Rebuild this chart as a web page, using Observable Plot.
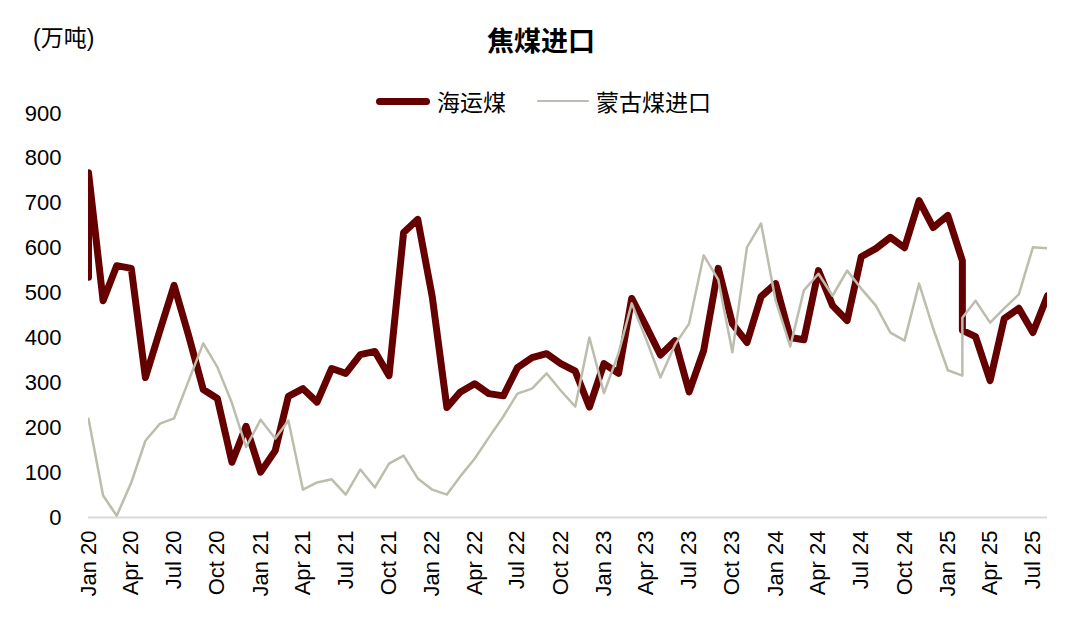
<!DOCTYPE html>
<html>
<head>
<meta charset="utf-8">
<script src="https://cdn.jsdelivr.net/npm/d3@7"></script>
<script src="https://cdn.jsdelivr.net/npm/@observablehq/plot@0.6"></script>
<style>
  html, body { margin: 0; padding: 0; background: #fff; }
  #wrap { position: relative; width: 1080px; height: 624px; overflow: hidden;
          font-family: "Liberation Sans", Arial, "Noto Sans CJK SC", sans-serif; color: #000; }
  #chart { position: absolute; left: 0; top: 0; }
  .ov { position: absolute; white-space: nowrap; }
  #unit { left: 33px; top: 27px; font-size: 23px; line-height: 23px; }
  #title { left: 0; width: 1082px; top: 26px; text-align: center; font-size: 27px; line-height: 27px; font-weight: bold;
           font-family: "Noto Sans CJK SC", sans-serif; }
  #legend { left: 376px; top: 89px; height: 24px; display: flex; align-items: center; font-size: 23px; line-height: 24px;
            font-family: "Noto Sans CJK SC", sans-serif; }
  .sw { display: inline-block; }
</style>
</head>
<body>
<div id="wrap">
  <div id="chart"></div>
  <div id="unit" class="ov">(万吨)</div>
  <div id="title" class="ov">焦煤进口</div>
  <div id="legend" class="ov"></div>
</div>
<script>
// Months (Jan 2020 and Feb 2025 appear twice in the source series)
const months = [
  "2020-01","2020-01","2020-02","2020-03","2020-04","2020-05","2020-06","2020-07","2020-08","2020-09","2020-10","2020-11","2020-12",
  "2021-01","2021-02","2021-03","2021-04","2021-05","2021-06","2021-07","2021-08","2021-09","2021-10","2021-11","2021-12",
  "2022-01","2022-02","2022-03","2022-04","2022-05","2022-06","2022-07","2022-08","2022-09","2022-10","2022-11","2022-12",
  "2023-01","2023-02","2023-03","2023-04","2023-05","2023-06","2023-07","2023-08","2023-09","2023-10","2023-11","2023-12",
  "2024-01","2024-02","2024-03","2024-04","2024-05","2024-06","2024-07","2024-08","2024-09","2024-10","2024-11","2024-12",
  "2025-01","2025-02","2025-02","2025-03","2025-04","2025-05","2025-06","2025-07","2025-08"
];
// 海运煤 (万吨)
const seaborne = [
  535, 768, 483, 561, 555, 312, 417, 517, 405, 285, 265, 123, 203,
  101, 149, 270, 287, 257, 332, 321, 363, 370, 316, 635, 664,
  491, 245, 279, 298, 276, 271, 334, 356, 365, 343, 326, 246,
  343, 321, 488, 425, 362, 394, 280, 372, 555, 432, 390, 492,
  521, 401, 396, 550, 472, 439, 581, 599, 624, 601, 706, 646,
  673, 572, 417, 403, 305, 443, 466, 412, 494
];
// 蒙古煤进口 (万吨)
const mongolia = [
  null, 220, 49, 4, 78, 171, 209, 221, 305, 388, 335, 255, 157,
  218, 176, 216, 62, 78, 85, 51, 107, 67, 120, 138, 87,
  62, 51, 91, 131, 178, 225, 276, 287, 321, 283, 247, 401,
  277, 366, 477, 396, 312, 385, 432, 584, 530, 368, 602, 655,
  483, 381, 506, 543, 494, 550, 510, 472, 412, 394, 521, 421,
  328, 316, 445, 483, 434, 466, 497, 602, 600
];
const xTicks = [
  "2020-01","2020-04","2020-07","2020-10","2021-01","2021-04","2021-07","2021-10",
  "2022-01","2022-04","2022-07","2022-10","2023-01","2023-04","2023-07","2023-10",
  "2024-01","2024-04","2024-07","2024-10","2025-01","2025-04","2025-07"
];
const yTicks = [0, 100, 200, 300, 400, 500, 600, 700, 800, 900];
const seriesNames = ["海运煤", "蒙古煤进口"];
const seriesColors = ["#650000", "#BDBDAE"];
const seriesWidths = [7, 2.5];

const toDate = (m) => new Date(m + "-01T00:00:00Z");
const data = months.map((m, i) => ({ date: toDate(m), seaborne: seaborne[i], mongolia: mongolia[i] }));

const chart = Plot.plot({
  width: 1080,
  height: 624,
  marginLeft: 88,
  marginRight: 33,
  marginTop: 113,
  marginBottom: 107,
  style: { fontFamily: "'Liberation Sans', Arial, sans-serif", fontSize: "22px", color: "#000", background: "transparent" },
  x: { type: "utc", domain: [toDate("2020-01"), toDate("2025-08")] },
  y: { domain: [0, 900] },
  marks: [
    Plot.ruleY([0], { stroke: "#D9D9D9", strokeWidth: 2 }),
    Plot.axisY({ ticks: yTicks, tickSize: 0, tickPadding: 27, label: null, fontSize: 22 }),
    Plot.axisX({ ticks: xTicks.map(toDate), tickFormat: d3.utcFormat("%b %y"), tickRotate: -90,
                 tickSize: 0, tickPadding: 13, label: null, fontSize: 22 }),
    Plot.lineY(data, { x: "date", y: "seaborne", stroke: seriesColors[0], strokeWidth: seriesWidths[0], clip: true }),
    Plot.lineY(data, { x: "date", y: "mongolia", stroke: seriesColors[1], strokeWidth: seriesWidths[1], clip: true })
  ]
});
document.getElementById("chart").appendChild(chart);

// Legend
const legend = document.getElementById("legend");
seriesNames.forEach((name, i) => {
  const sw = document.createElement("span");
  sw.className = "sw";
  sw.style.width = (i === 0 ? 54 : 52) + "px";
  sw.style.height = seriesWidths[i] + "px";
  sw.style.background = seriesColors[i];
  sw.style.borderRadius = (seriesWidths[i] / 2) + "px";
  sw.style.marginRight = "7px";
  const t = document.createElement("span");
  t.textContent = name;
  t.style.marginRight = i === 0 ? "31px" : "0";
  legend.appendChild(sw);
  legend.appendChild(t);
});
</script>
</body>
</html>
